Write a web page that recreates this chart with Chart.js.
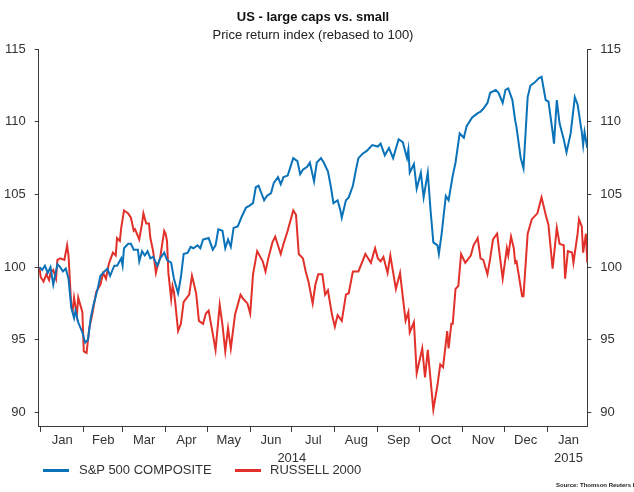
<!DOCTYPE html>
<html>
<head>
<meta charset="utf-8">
<script src="https://cdn.jsdelivr.net/npm/chart.js@4.4.1/dist/chart.umd.min.js"></script>
<style>
  body { margin: 0; background: #fff; }
  #wrap { position: relative; width: 634px; height: 492px; font-family: 'Liberation Sans', Arial, sans-serif; }
  .legend-line { position: absolute; width: 26px; height: 3px; top: 469px; }
  .legend-text { position: absolute; top: 462px; font-size: 13px; line-height: 15px; color: #333; }
  #source { position: absolute; left: 556px; top: 482px; font-size: 6px; font-weight: bold; color: #222; white-space: nowrap; }
</style>
</head>
<body>
<div id="wrap">
  <canvas id="chart" width="634" height="492"></canvas>
  <div class="legend-line" style="left:43px; background:#0a72b8"></div>
  <div class="legend-text" style="left:79px">S&amp;P 500 COMPOSITE</div>
  <div class="legend-line" style="left:235px; background:#e2302a"></div>
  <div class="legend-text" style="left:270px">RUSSELL 2000</div>
  <div id="source">Source: Thomson Reuters Datastream</div>
</div>
<script>
// days counted from 1 Jan 2014
const spDays = [-1, 1, 3, 5, 7, 9, 12, 14, 16, 18, 20, 22, 24, 25, 27, 30, 32, 34, 36, 38,
  41, 43, 45, 48, 50, 53, 55, 58, 59, 60, 63, 65, 67, 70, 71, 73, 75, 77, 79, 81,
  84, 86, 89, 91, 94, 96, 99, 101, 103, 106, 108, 110, 113, 115, 117, 121, 124, 126, 128, 131,
  133, 135, 137, 139, 142, 145, 148, 150, 153, 155, 157, 159, 161, 163, 166, 168, 171, 173, 175, 178,
  180, 182, 185, 187, 189, 192, 194, 197, 199, 202, 204, 207, 209, 211, 214, 216, 217, 220, 222, 225,
  227, 229, 232, 235, 239, 243, 245, 248, 251, 254, 258, 261, 264, 265, 266, 269, 271, 274, 276, 279,
  281, 283, 286, 287, 289, 292, 294, 297, 299, 302, 305, 307, 311, 315, 317, 319, 322, 324, 328, 330,
  333, 335, 337, 340, 342, 343, 346, 348, 351, 353, 356, 359, 361, 364, 366, 369, 370, 372, 374, 377,
  379, 382, 385, 387, 390, 391, 392, 394];
const spValues = [100.0, 99.8, 100.1, 99.6, 100.0, 98.8, 100.2, 100.0, 99.7, 99.9, 99.2, 97.2, 96.5, 97.0, 96.2, 95.5, 94.8, 95.0, 96.5, 97.4,
  98.5, 99.4, 99.6, 99.9, 99.4, 100.1, 100.1, 100.6, 100.1, 101.3, 101.6, 101.6, 101.2, 101.2, 100.4, 101.1, 100.8, 101.1, 100.6, 100.7,
  100.1, 100.6, 101.0, 100.5, 100.3, 99.2, 98.2, 99.3, 100.9, 101.0, 101.4, 101.3, 101.5, 101.3, 101.9, 102.0, 101.2, 101.5, 102.6, 102.5,
  101.3, 101.9, 101.4, 102.7, 102.8, 103.5, 104.1, 104.2, 104.4, 105.5, 105.6, 105.1, 104.6, 104.9, 105.1, 105.8, 106.2, 105.7, 106.2, 106.3,
  106.9, 107.5, 107.3, 106.4, 106.7, 106.9, 107.2, 105.9, 107.2, 107.5, 107.2, 106.6, 105.6, 104.4, 104.6, 103.9, 103.4, 104.6, 104.8, 105.6,
  106.6, 107.5, 107.8, 108.0, 108.4, 108.3, 108.5, 107.7, 108.2, 107.5, 108.8, 108.6, 107.5, 108.1, 106.5, 107.1, 105.4, 106.5, 104.8, 106.5,
  103.9, 101.7, 101.5, 100.9, 102.3, 104.9, 104.6, 106.3, 107.2, 109.2, 108.9, 109.7, 110.3, 110.6, 110.7, 110.9, 111.3, 112.0, 112.2, 112.0,
  111.3, 112.2, 112.3, 111.5, 110.1, 109.6, 107.5, 106.8, 111.7, 112.5, 112.7, 113.0, 113.1, 111.5, 111.4, 109.3, 108.5, 111.5, 109.9, 108.8,
  107.9, 109.2, 111.7, 111.2, 109.3, 108.4, 109.3, 108.2];

const rutDays = [-1, 0, 2, 4, 6, 7, 9, 11, 12, 14, 17, 19, 20, 22, 23, 24, 26, 27, 30, 31,
  33, 35, 37, 40, 43, 45, 47, 49, 52, 54, 55, 57, 58, 60, 63, 65, 67, 68, 71, 73,
  74, 76, 78, 79, 81, 83, 84, 86, 89, 90, 91, 92, 94, 95, 96, 97, 99, 101, 103, 107,
  109, 112, 114, 117, 119, 121, 124, 126, 129, 131, 133, 135, 137, 140, 144, 146, 149, 151, 153, 156,
  160, 162, 164, 167, 169, 171, 173, 175, 178, 180, 182, 184, 186, 189, 191, 193, 196, 198, 200, 203,
  205, 207, 210, 212, 214, 217, 220, 222, 225, 229, 234, 238, 241, 243, 245, 247, 250, 252, 256, 259,
  263, 265, 266, 269, 271, 275, 277, 279, 283, 286, 288, 290, 293, 294, 296, 297, 299, 301, 303, 306,
  310, 312, 315, 317, 319, 322, 324, 326, 329, 331, 333, 336, 337, 339, 341, 342, 343, 347, 348, 351,
  354, 358, 361, 364, 366, 369, 372, 374, 377, 378, 380, 383, 384, 387, 388, 390, 391, 393, 394];
const rutValues = [100.0, 99.3, 99.0, 99.5, 99.1, 99.6, 99.8, 99.2, 100.5, 100.6, 100.5, 101.5, 100.8, 97.3, 97.0, 97.9, 96.7, 97.9, 96.9, 94.2,
  94.1, 95.8, 96.7, 98.3, 98.8, 99.6, 99.2, 100.2, 101.0, 100.8, 102.0, 101.8, 102.7, 103.9, 103.7, 103.4, 102.5, 102.6, 101.9, 103.0,
  103.7, 103.0, 103.0, 102.0, 101.1, 99.6, 100.0, 100.6, 102.5, 102.3, 101.8, 99.6, 97.8, 98.7, 98.3, 97.5, 95.6, 96.1, 97.6, 98.1,
  99.4, 98.2, 96.3, 96.1, 96.8, 97.0, 95.4, 94.3, 97.4, 96.0, 94.2, 95.8, 94.4, 96.7, 98.1, 97.8, 97.5, 96.8, 99.5, 101.1,
  100.4, 99.7, 100.6, 101.7, 102.1, 101.5, 100.9, 101.6, 102.5, 103.2, 103.9, 103.6, 100.9, 100.6, 99.7, 99.0, 97.5, 98.8, 99.5, 99.5,
  98.1, 98.4, 96.7, 95.9, 96.7, 96.3, 98.1, 98.2, 99.7, 99.7, 100.9, 100.3, 101.3, 100.6, 100.4, 100.7, 99.6, 100.8, 98.5, 99.6,
  96.3, 96.9, 95.5, 96.2, 92.7, 94.4, 92.4, 94.3, 90.2, 91.9, 93.3, 93.1, 95.6, 94.4, 96.1, 96.1, 98.5, 98.7, 100.9, 100.3,
  100.8, 101.5, 102.0, 100.6, 100.5, 99.5, 100.6, 101.9, 102.3, 100.7, 99.2, 101.3, 100.8, 102.1, 101.3, 100.3, 100.4, 98.0, 98.0, 102.3,
  103.3, 103.7, 104.8, 103.6, 102.9, 99.9, 102.7, 101.6, 101.5, 99.2, 101.1, 101.0, 100.3, 102.3, 103.3, 102.8, 101.0, 102.3, 100.3];

const monthStarts = [0, 31, 59, 90, 120, 151, 181, 212, 243, 273, 304, 334, 365, 396];
const monthNames = ['Jan', 'Feb', 'Mar', 'Apr', 'May', 'Jun', 'Jul', 'Aug', 'Sep', 'Oct', 'Nov', 'Dec', 'Jan'];
const yearLabels = { 181: '2014', 365: '2015' };
const yTicks = [90, 95, 100, 105, 110, 115];

const fontFamily = "'Liberation Sans', Arial, sans-serif";
Chart.defaults.font.family = fontFamily;
Chart.defaults.color = '#333';

// build x-axis ticks: marks at month starts, names in the middle of each month
const xTickLabels = {};
const xTickValues = [];
for (let i = 0; i < monthNames.length; i++) {
    const start = monthStarts[i];
    xTickValues.push(start);
    xTickLabels[start] = start === 181 ? ['', yearLabels[181]] : '';
    const mid = (monthStarts[i] + monthStarts[i + 1]) / 2;
    xTickValues.push(mid);
    xTickLabels[mid] = i === 12 ? [monthNames[i], yearLabels[365]] : monthNames[i];
}
const isMonthStart = v => monthStarts.includes(v);

const toPoints = (days, values) => days.map((d, i) => ({ x: d, y: values[i] }));

const axisColor = '#3a3a3a';

const yAxis = (position) => ({
    type: 'linear',
    position: position,
    min: 89,
    max: 115,
    afterBuildTicks: (scale) => {
        scale.ticks = yTicks.map(v => ({ value: v }));
    },
    grid: {
        drawOnChartArea: false,
        tickLength: 4,
        tickColor: axisColor
    },
    border: { color: axisColor, width: 1 },
    ticks: {
        padding: 9,
        font: { size: 13 },
        color: '#333'
    }
});

const ctx = document.getElementById('chart').getContext('2d');
new Chart(ctx, {
    type: 'line',
    data: {
        datasets: [
            {
                label: 'S&P 500 COMPOSITE',
                data: toPoints(spDays, spValues),
                borderColor: '#0a72b8',
                borderWidth: 2,
                pointRadius: 0,
                tension: 0,
                yAxisID: 'y'
            },
            {
                label: 'RUSSELL 2000',
                data: toPoints(rutDays, rutValues),
                borderColor: '#e2302a',
                borderWidth: 2,
                pointRadius: 0,
                tension: 0,
                yAxisID: 'y'
            }
        ]
    },
    options: {
        responsive: false,
        animation: false,
        layout: {
            padding: { left: -5, right: 3, top: 0, bottom: 25 }
        },
        plugins: {
            legend: { display: false },
            tooltip: { enabled: false },
            title: {
                display: true,
                text: 'US - large caps vs. small',
                color: '#111',
                font: { size: 13, weight: 'bold' },
                padding: { top: 10, bottom: 2 }
            },
            subtitle: {
                display: true,
                text: 'Price return index (rebased to 100)',
                color: '#222',
                font: { size: 13 },
                padding: { top: 0, bottom: 6 }
            }
        },
        scales: {
            x: {
                type: 'linear',
                min: -1.5,
                max: 394,
                afterBuildTicks: (scale) => {
                    scale.ticks = xTickValues.map(v => ({ value: v }));
                },
                grid: {
                    drawOnChartArea: false,
                    tickLength: 5,
                    tickColor: (c) => (c.tick && isMonthStart(c.tick.value)) ? axisColor : 'rgba(0,0,0,0)'
                },
                border: { color: axisColor, width: 1 },
                ticks: {
                    autoSkip: false,
                    maxRotation: 0,
                    minRotation: 0,
                    padding: 0,
                    font: { size: 13, lineHeight: 1.35 },
                    color: '#333',
                    callback: (value) => xTickLabels[value] !== undefined ? xTickLabels[value] : ''
                }
            },
            y: yAxis('left'),
            y2: yAxis('right')
        }
    }
});
</script>
</body>
</html>
